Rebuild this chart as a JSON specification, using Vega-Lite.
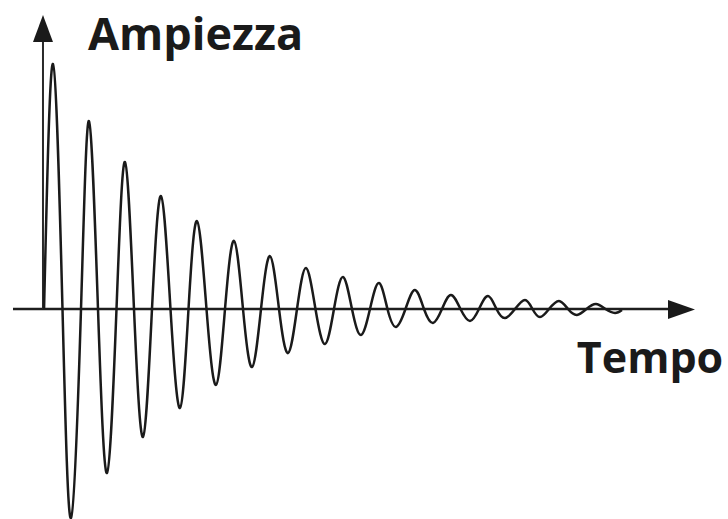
{
  "$schema": "https://vega.github.io/schema/vega-lite/v6.json",
  "width": 728,
  "height": 519,
  "padding": 0,
  "autosize": {"type": "none"},
  "background": "white",
  "config": {"view": {"stroke": null}},
  "datasets": {
    "signal": [
      {"t": 0.3, "a": 0},
      {"t": 2.78, "a": 100},
      {"t": 5.42, "a": 0},
      {"t": 7.78, "a": -85.3},
      {"t": 10.56, "a": 0},
      {"t": 12.78, "a": 76.7},
      {"t": 15.28, "a": 0},
      {"t": 17.78, "a": -66.9},
      {"t": 20.42, "a": 0},
      {"t": 22.78, "a": 60.0},
      {"t": 25.28, "a": 0},
      {"t": 27.78, "a": -52.2},
      {"t": 30.28, "a": 0},
      {"t": 32.78, "a": 46.1},
      {"t": 35.42, "a": 0},
      {"t": 38.06, "a": -40.4},
      {"t": 40.42, "a": 0},
      {"t": 42.78, "a": 35.9},
      {"t": 45.42, "a": 0},
      {"t": 48.06, "a": -31.0},
      {"t": 50.56, "a": 0},
      {"t": 53.06, "a": 27.8},
      {"t": 55.56, "a": 0},
      {"t": 58.06, "a": -23.7},
      {"t": 60.56, "a": 0},
      {"t": 63.06, "a": 21.6},
      {"t": 65.56, "a": 0},
      {"t": 68.06, "a": -18.0},
      {"t": 70.56, "a": 0},
      {"t": 73.06, "a": 16.7},
      {"t": 75.69, "a": 0},
      {"t": 78.33, "a": -14.3},
      {"t": 80.83, "a": 0},
      {"t": 83.33, "a": 13.1},
      {"t": 85.83, "a": 0},
      {"t": 88.33, "a": -10.6},
      {"t": 90.83, "a": 0},
      {"t": 93.33, "a": 10.6},
      {"t": 95.69, "a": 0},
      {"t": 98.06, "a": -7.3},
      {"t": 100.69, "a": 0},
      {"t": 103.33, "a": 7.8},
      {"t": 105.83, "a": 0},
      {"t": 108.33, "a": -5.7},
      {"t": 110.83, "a": 0},
      {"t": 113.33, "a": 5.7},
      {"t": 115.97, "a": 0},
      {"t": 118.61, "a": -4.9},
      {"t": 121.11, "a": 0},
      {"t": 123.61, "a": 5.3},
      {"t": 125.97, "a": 0},
      {"t": 128.33, "a": -3.7},
      {"t": 131.11, "a": 0},
      {"t": 133.89, "a": 3.7},
      {"t": 135.97, "a": 0},
      {"t": 138.06, "a": -3.3},
      {"t": 140.56, "a": 0},
      {"t": 143.33, "a": 3.3},
      {"t": 145.83, "a": 0},
      {"t": 148.33, "a": -2.4},
      {"t": 150.97, "a": 0},
      {"t": 153.61, "a": 2.0},
      {"t": 156.25, "a": 0},
      {"t": 158.89, "a": -1.6},
      {"t": 160.83, "a": -0.4}
    ],
    "xaxis": [{"t": -8.33, "t2": 177.0, "a": 0}],
    "yaxis": [{"t": 0, "a": 0, "a2": 109.0}],
    "arrowUp": [{"t": 0, "a": 114.5}],
    "arrowRight": [{"t": 177.36, "a": -0.2}],
    "labels": [
      {"t": 12.5, "a": 105.7, "label": "Ampiezza"},
      {"t": 148.3, "a": -26.1, "label": "Tempo"}
    ]
  },
  "encoding": {
    "x": {"field": "t", "type": "quantitative", "axis": null, "scale": {"domain": [-11.94, 190.28], "nice": false, "zero": false}},
    "y": {"field": "a", "type": "quantitative", "axis": null, "scale": {"domain": [-85.71, 126.12], "nice": false, "zero": false}}
  },
  "layer": [
    {
      "data": {"name": "xaxis"},
      "mark": {"type": "rule", "color": "#1e1e1e", "strokeWidth": 2.4},
      "encoding": {"x2": {"field": "t2"}}
    },
    {
      "data": {"name": "yaxis"},
      "mark": {"type": "rule", "color": "#2a2a2a", "strokeWidth": 2},
      "encoding": {"y2": {"field": "a2"}}
    },
    {
      "data": {"name": "arrowUp"},
      "mark": {"type": "point", "shape": "M0,-1L0.74,1L-0.74,1Z", "size": 729, "filled": true, "opacity": 1, "color": "#1a1a1a", "strokeWidth": 0}
    },
    {
      "data": {"name": "arrowRight"},
      "mark": {"type": "point", "shape": "M1,0L-1,-0.7L-1,0.7Z", "size": 729, "filled": true, "opacity": 1, "color": "#1a1a1a", "strokeWidth": 0}
    },
    {
      "data": {"name": "signal"},
      "mark": {"type": "line", "color": "#1a1a1a", "strokeWidth": 2.5, "interpolate": "natural"},
      "encoding": {"order": {"field": "t", "type": "quantitative"}}
    },
    {
      "data": {"name": "labels"},
      "mark": {"type": "text", "align": "left", "baseline": "alphabetic", "font": "Open Sans", "fontWeight": "bold", "fontSize": 45, "color": "#1a1a1a"},
      "encoding": {
        "text": {"field": "label"},
        "size": {"condition": {"test": "datum.label === 'Tempo'", "value": 43}, "value": 45}
      }
    }
  ]
}
